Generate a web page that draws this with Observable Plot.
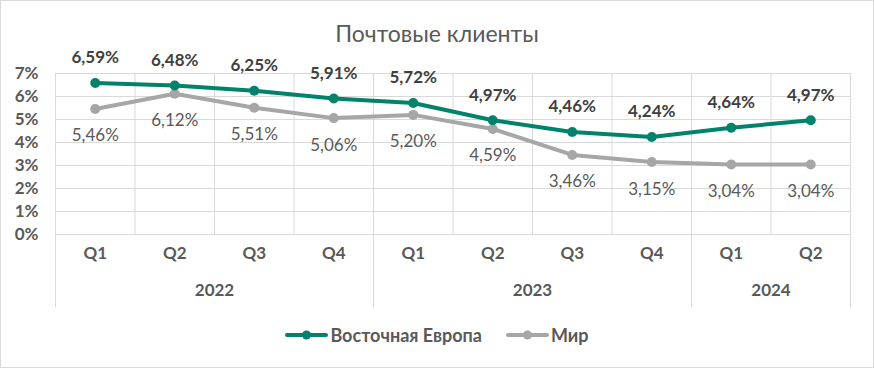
<!DOCTYPE html>
<html>
<head>
<meta charset="utf-8">
<script src="https://cdn.jsdelivr.net/npm/d3@7"></script>
<script src="https://cdn.jsdelivr.net/npm/@observablehq/plot@0.6"></script>
<style>
  html, body { margin: 0; padding: 0; background: #fff; }
  #wrap { position: relative; width: 874px; height: 368px; outline: 1px solid #d9d9d9; outline-offset: -1px; font-family: Lato, "Open Sans", sans-serif; overflow: hidden; }
  #title { height: 46px; padding-top: 20px; box-sizing: border-box; text-align: center; font-size: 23px; line-height: 26px; color: #595959; }
  #chart svg { display: block; }
  #legend { display: flex; justify-content: center; align-items: center; height: 46px; box-sizing: border-box; font-size: 18px; font-weight: bold; color: #595959; }
  .item { display: flex; align-items: center; margin: 0 12px; }
  .item svg { margin-right: 2px; }
</style>
</head>
<body>
<div id="wrap">
  <div id="title">Почтовые клиенты</div>
  <div id="chart"></div>
  <div id="legend"></div>
</div>
<script>
const quarters = ["Q1", "Q2", "Q3", "Q4", "Q1", "Q2", "Q3", "Q4", "Q1", "Q2"];
const years = ["2022", "2022", "2022", "2022", "2023", "2023", "2023", "2023", "2024", "2024"];
const eastEurope = [6.59, 6.48, 6.25, 5.91, 5.72, 4.97, 4.46, 4.24, 4.64, 4.97];
const world = [5.46, 6.12, 5.51, 5.06, 5.20, 4.59, 3.46, 3.15, 3.04, 3.04];
const yTicks = [0, 1, 2, 3, 4, 5, 6, 7];
const seriesNames = ["Восточная Европа", "Мир"];
const seriesColors = ["#00826B", "#A6A6A6"];

const data = quarters.map((q, i) => ({ i, q, year: years[i], ee: eastEurope[i], w: world[i] }));
const yearGroups = Array.from(d3.group(data, d => d.year), ([year, rows]) => ({
  year,
  mid: (rows[0].i + rows[rows.length - 1].i) / 2,
  start: rows[0].i - 0.5,
  end: rows[rows.length - 1].i + 0.5
}));
const catBounds = d3.range(quarters.length + 1).map(i => i - 0.5);
const yearBounds = [yearGroups[0].start, ...yearGroups.map(g => g.end)];
const fmt = v => v.toFixed(2).replace(".", ",") + "%";

const plot = Plot.plot({
  width: 874,
  height: 266,
  marginLeft: 55,
  marginRight: 24,
  marginTop: 27,
  marginBottom: 78,
  style: { fontFamily: 'Lato, "Open Sans", sans-serif', fontSize: "17px", color: "#595959", background: "transparent", overflow: "visible" },
  x: { type: "linear", domain: [-0.5, quarters.length - 0.5], axis: null },
  y: { domain: [0, 7], axis: null },
  marks: [
    Plot.ruleY(yTicks, { stroke: "#d9d9d9", strokeWidth: 1 }),
    Plot.ruleX(catBounds, { stroke: "#d9d9d9", strokeWidth: 1 }),
    Plot.ruleX(yearBounds, { stroke: "#d9d9d9", strokeWidth: 1, insetBottom: -73 }),
    Plot.axisY(yTicks, { tickSize: 0, tickPadding: 17, tickFormat: d => d + "%", fontWeight: "bold", fontSize: 17, label: null }),
    Plot.text(data, { x: "i", text: "q", frameAnchor: "bottom", dy: 24, fontWeight: "bold", fontSize: 17, fill: "#595959" }),
    Plot.text(yearGroups, { x: "mid", text: "year", frameAnchor: "bottom", dy: 61, fontWeight: "bold", fontSize: 17, fill: "#595959" }),
    Plot.line(data, { x: "i", y: "w", stroke: seriesColors[1], strokeWidth: 4 }),
    Plot.dot(data, { x: "i", y: "w", r: 5, fill: seriesColors[1], stroke: "none" }),
    Plot.line(data, { x: "i", y: "ee", stroke: seriesColors[0], strokeWidth: 4 }),
    Plot.dot(data, { x: "i", y: "ee", r: 5, fill: seriesColors[0], stroke: "none" }),
    Plot.text(data, { x: "i", y: "ee", text: d => fmt(d.ee), dy: -25, fontWeight: "bold", fontSize: 17, fill: "#404040" }),
    Plot.text(data, { x: "i", y: "w", text: d => fmt(d.w), dy: 27, fontSize: 17, fill: "#595959" })
  ]
});
document.getElementById("chart").appendChild(plot);

const legend = document.getElementById("legend");
seriesNames.forEach((name, k) => {
  const item = document.createElement("div");
  item.className = "item";
  item.innerHTML = `<svg width="43" height="12"><line x1="2" y1="6" x2="41" y2="6" stroke="${seriesColors[k]}" stroke-width="4" stroke-linecap="round"/><circle cx="21.5" cy="6" r="4.5" fill="${seriesColors[k]}"/></svg><span>${name}</span>`;
  legend.appendChild(item);
});
</script>
</body>
</html>
